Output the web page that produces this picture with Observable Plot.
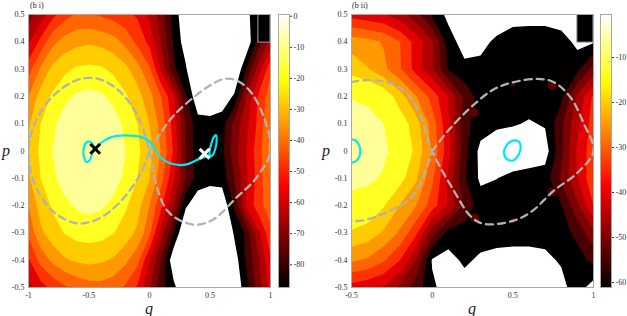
<!DOCTYPE html>
<html><head><meta charset="utf-8">
<script src="https://cdn.jsdelivr.net/npm/d3@7"></script>
<script src="https://cdn.jsdelivr.net/npm/@observablehq/plot@0.6"></script>
<style>
body{margin:0;background:#fff;}
#wrap{position:relative;width:627px;height:316px;font-family:"Liberation Serif","DejaVu Serif",serif;overflow:hidden;}
#wrap svg{position:absolute;top:0;}
.lab{position:absolute;font-style:italic;font-size:16px;color:#222;line-height:13px;}
.ttl{position:absolute;font-size:8px;color:#222;line-height:9px;}
</style></head><body><div id="wrap"></div>
<script>
// ---------- data: panel (b i) ----------
const q1 = [-1,-0.9,-0.8,-0.7,-0.6,-0.5,-0.4,-0.3,-0.2,-0.1,0,0.1,0.2,0.3,0.4,0.5,0.6,0.7,0.8,0.9,1];
const pRows = [0.5,0.4,0.3,0.2,0.1,0,-0.1,-0.2,-0.3,-0.4,-0.5];
const field1 = [
 [-66,-60,-51,-45,-41,-41.5,-43,-45,-47,-50,-58,-67,-80,-90,-97,-100,-100,-97,-86,-79,-72],
 [-57,-47,-37,-32,-30,-29,-30,-32,-37,-44,-51,-64,-78,-88,-97,-100,-100,-97,-90,-74,-60],
 [-45,-34,-26,-22.5,-20,-19.5,-20,-22.5,-26,-32,-41,-57.7,-75.5,-83,-97,-100,-100,-93,-77,-60,-44],
 [-35,-25,-20,-15.6,-13,-12,-13,-15.6,-20,-25,-32.5,-42.5,-55,-76,-90,-89,-89,-83,-63,-48,-38],
 [-29,-21,-15.4,-11,-8,-7,-8,-11,-15.4,-21,-28,-38,-52,-71,-81,-82,-80,-68,-58,-47,-35],
 [-26.5,-19.7,-13.8,-9,-6.8,-6,-6.8,-9,-13.8,-19.7,-25,-36,-50,-71,-81,-81.5,-79,-66,-56,-45,-33],
 [-29,-21,-15.4,-11,-8,-7,-8,-11,-15.4,-21,-28,-40,-55,-70,-80,-82,-81,-70,-57,-46,-35],
 [-35,-25,-20,-15.6,-13,-12,-13,-15.6,-20,-25,-35,-48,-63,-83,-89,-89,-90,-76,-55,-45,-38],
 [-40,-29.5,-24,-20.7,-18.4,-18,-18.4,-20.7,-24,-29.5,-40,-60,-77,-93,-100,-100,-97,-83,-75.5,-57.7,-44],
 [-50,-39.6,-33.3,-28.8,-27,-26,-27,-28.8,-33.3,-39.6,-56,-71,-90,-97,-100,-100,-97,-88,-76,-64,-50],
 [-58,-52,-47,-43,-40,-38,-37.5,-39,-43,-50,-62,-75,-82,-92,-100,-100,-97,-90,-80,-66,-54]
];
const levels1 = [-84,-77,-70,-63,-56,-49,-42,-35,-28,-21,-14];
const sep1 = [[0,0],[0.09,0.064],[0.2,0.13],[0.366,0.197],[0.5,0.24],[0.614,0.264],[0.72,0.258],[0.83,0.22],[0.945,0.124],[1,0],[0.88,-0.1],[0.72,-0.17],[0.53,-0.25],[0.39,-0.27],[0.256,-0.255],[0.15,-0.22],[0.08,-0.16],[0.03,-0.07],[0,0],[-0.1,0.13],[-0.25,0.22],[-0.43,0.265],[-0.6,0.26],[-0.8,0.2],[-0.95,0.1],[-1,0],[-0.95,-0.12],[-0.8,-0.22],[-0.6,-0.265],[-0.43,-0.25],[-0.25,-0.19],[-0.07,-0.08],[0,0]];
const cyanPath1 = [[-0.449,0.008],[-0.4,0.03],[-0.32,0.05],[-0.2,0.057],[-0.064,0.05],[0,0.035],[0.09,-0.023],[0.17,-0.045],[0.3,-0.05],[0.42,-0.027],[0.5,-0.015]];
const cyanLoop1a = [[-0.455,0.012],[-0.49,0.033],[-0.525,0.03],[-0.545,0.005],[-0.54,-0.025],[-0.52,-0.041],[-0.495,-0.035],[-0.475,-0.012]];
const cyanLoop1b = [[0.5,-0.02],[0.522,-0.015],[0.545,0.01],[0.555,0.04],[0.548,0.058],[0.53,0.05],[0.51,0.025],[0.497,0.0]];
const crossBlack1 = [[-0.449,0.008]];
const crossWhite1 = [[0.455,-0.01]];
const box1 = [{q1:0.9,q2:1,p1:0.397,p2:0.5}];
const qTicks1 = [-1,-0.5,0,0.5,1];
const cbTicks1 = [0,-10,-20,-30,-40,-50,-60,-70,-80];
const cbDomain1 = [-87.3,0.55];

// ---------- data: panel (b ii) ----------
const q2 = [-0.5,-0.4,-0.3,-0.2,-0.1,0,0.1,0.2,0.3,0.4,0.5,0.6,0.7,0.8,0.9,1];
const field2 = [
 [-36,-37.5,-38.5,-42,-47,-54.5,-60,-63,-63,-62,-61,-61,-61,-62,-63,-62],
 [-21.5,-22.5,-24.7,-29,-36,-43,-56,-61,-60,-57.5,-55.5,-55,-55,-56,-60,-59],
 [-16.5,-19,-23,-28.5,-36,-43,-54,-57,-57,-56,-56,-56,-56,-56,-55,-47],
 [-7.3,-8,-10.5,-17,-24,-31,-39,-50,-56,-56,-56,-56,-56,-55,-43,-33],
 [-4.7,-5.3,-7,-11.5,-17,-26.5,-38,-52,-56,-57.5,-58,-59,-58,-50,-40,-31.5],
 [-4,-4.5,-5.8,-10,-15.5,-25,-37,-52,-60,-62,-63,-62,-61,-50,-38,-31],
 [-5,-5.7,-7.8,-12.5,-18.5,-28,-40,-53,-59.5,-58.6,-57,-56.5,-56,-48,-39,-30],
 [-9.5,-10.5,-14,-19.5,-24,-31.5,-39.5,-50,-56,-56,-56,-56,-57,-54,-45,-34],
 [-15,-16.5,-20,-25,-33,-47,-55.5,-56,-56,-56,-56.5,-57,-57,-56,-52,-45],
 [-23.5,-25,-28.5,-34,-44,-59,-60.5,-57.5,-59.5,-60.5,-60.5,-60,-59.5,-58,-56,-52],
 [-36,-37.5,-39.5,-45,-51,-57.5,-61,-61,-62,-63,-63,-63,-62,-60,-56,-61]
];
const levels2 = [-58.5,-53.6,-48.7,-43.8,-38.9,-34,-29.1,-24.2,-19.3,-14.4,-7];
const sep2 = [[0,0],[0.1,0.075],[0.24,0.16],[0.38,0.225],[0.506,0.252],[0.65,0.264],[0.754,0.252],[0.857,0.197],[0.94,0.1],[1,0],[0.9,-0.08],[0.754,-0.145],[0.62,-0.22],[0.506,-0.255],[0.32,-0.267],[0.24,-0.24],[0.134,-0.145],[0,0],[-0.07,0.124],[-0.155,0.21],[-0.28,0.252],[-0.5,0.252],[-0.7,0.18],[-0.78,0],[-0.7,-0.18],[-0.5,-0.255],[-0.28,-0.224],[-0.11,-0.157],[0,0]];
const cyanLoop2a = [[-0.445,0.0],[-0.46,0.03],[-0.49,0.042],[-0.52,0.035],[-0.535,0.0],[-0.52,-0.035],[-0.49,-0.042],[-0.46,-0.03]];
const cyanLoop2b = [[0.548,0.02],[0.535,0.035],[0.5,0.038],[0.46,0.02],[0.445,-0.005],[0.46,-0.028],[0.5,-0.035],[0.535,-0.015]];
const islandsBig2 = [[0.26,0.14],[0.745,0.24],[0.745,-0.15],[0.265,-0.245]];
const islandsSmall2 = [[0.5,0.245],[0.5,-0.255]];
const box2 = [{q1:0.9,q2:1,p1:0.397,p2:0.5}];
const qTicks2 = [-0.5,0,0.5,1];
const cbTicks2 = [-10,-20,-30,-40,-50,-60];
const cbDomain2 = [-61.1,-0.44];

const pTicks = [0.5,0.4,0.3,0.2,0.1,0,-0.1,-0.2,-0.3,-0.4,-0.5];

// ---------- styles ----------
const bandColors = ["#000000","#4a0000","#7e0000","#b00000","#e20000","#ff3300","#ff6600","#ff9900","#ffcc00","#ffff22","#ffff99"];
const fontFam = "Liberation Serif, DejaVu Serif, serif";
const fmt = d => String(Math.round(d * 10) / 10);
const pairs = a => a.map(([q, p]) => ({q, p}));

function panel(o) {
  const nx = o.qs.length, ny = pRows.length;
  const dq = (o.qs[nx - 1] - o.qs[0]) / (nx - 1);
  const dp = (pRows[0] - pRows[ny - 1]) / (ny - 1);
  const marks = [
    Plot.contour(o.field.flat(), {
      width: nx, height: ny,
      x1: o.qs[0] - dq / 2, x2: o.qs[nx - 1] + dq / 2,
      y1: pRows[0] + dp / 2, y2: pRows[ny - 1] - dp / 2,
      fill: Plot.identity, stroke: "none", thresholds: o.levels
    })
  ];
  if (o.islandsBig) marks.push(Plot.dot(pairs(o.islandsBig), {x: "q", y: "p", r: 4.5, fill: "#5a0000"}));
  if (o.islandsSmall) marks.push(Plot.dot(pairs(o.islandsSmall), {x: "q", y: "p", r: 2.5, fill: "#5a0000"}));
  marks.push(Plot.line(pairs(o.sep), {x: "q", y: "p", curve: "catmull-rom", stroke: "#b2b2b2", strokeWidth: 2.3, strokeDasharray: "7,5"}));
  for (const path of o.cyanPaths) marks.push(Plot.line(pairs(path), {x: "q", y: "p", curve: "catmull-rom", stroke: "#00e8f0", strokeWidth: 2.2}));
  for (const loop of o.cyanLoops) marks.push(Plot.line(pairs(loop), {x: "q", y: "p", curve: "catmull-rom-closed", stroke: "#00e8f0", strokeWidth: 2.2}));
  if (o.crossBlack) marks.push(Plot.dot(pairs(o.crossBlack), {x: "q", y: "p", symbol: "times", r: 4.5, stroke: "black", strokeWidth: 3}));
  if (o.crossWhite) marks.push(Plot.dot(pairs(o.crossWhite), {x: "q", y: "p", symbol: "times", r: 4.5, stroke: "white", strokeWidth: 3}));
  marks.push(Plot.rect(o.box, {x1: "q1", x2: "q2", y1: "p1", y2: "p2", fill: "black", stroke: "#a0a0a0"}));
  marks.push(Plot.frame({stroke: "#a8a8a8"}));
  return Plot.plot({
    width: o.width, height: 316,
    marginLeft: o.ml, marginRight: 5, marginTop: 14, marginBottom: 29,
    clip: true,
    x: {domain: [o.qs[0], o.qs[nx - 1]], ticks: o.qTicks, tickFormat: fmt, tickSize: 0, tickPadding: 5, label: null},
    y: {domain: [-0.5, 0.5], ticks: pTicks, tickFormat: fmt, tickSize: 0, tickPadding: 4, label: null},
    color: {type: "ordinal", domain: o.levels, range: bandColors},
    style: {fontFamily: fontFam, fontSize: "8px", color: "#333", background: "white"},
    marks
  });
}

function colorbar(o) {
  const [lo, hi] = o.domain;
  return Plot.plot({
    width: o.width, height: 316,
    marginLeft: o.ml, marginRight: o.width - o.ml - 11, marginTop: 14, marginBottom: 29,
    x: {domain: [0, 1], axis: null},
    y: {domain: [lo, hi], ticks: o.ticks, tickFormat: d => String(d), tickSize: 2, tickPadding: 2, label: null, axis: "right"},
    color: {type: "linear", domain: [lo, lo + 0.375 * (hi - lo), lo + 0.75 * (hi - lo), hi], range: ["#000000", "#ff0000", "#ffff00", "#ffffff"]},
    style: {fontFamily: fontFam, fontSize: "8px", color: "#333", background: "white"},
    marks: [
      Plot.raster({x1: 0, x2: 1, y1: lo, y2: hi, width: 1, height: 400, fill: (x, y) => y}),
      Plot.frame({stroke: "#a8a8a8"})
    ]
  });
}

const wrap = document.getElementById("wrap");
function place(el, left) { el.style.left = left + "px"; wrap.appendChild(el); }

place(panel({qs: q1, field: field1, levels: levels1, sep: sep1, cyanPaths: [cyanPath1], cyanLoops: [cyanLoop1a, cyanLoop1b],
  crossBlack: crossBlack1, crossWhite: crossWhite1, box: box1, qTicks: qTicks1, width: 275, ml: 28}), 0);
place(colorbar({domain: cbDomain1, ticks: cbTicks1, width: 45, ml: 3}), 275);
place(panel({qs: q2, field: field2, levels: levels2, sep: sep2, cyanPaths: [], cyanLoops: [cyanLoop2a, cyanLoop2b],
  islandsBig: islandsBig2, islandsSmall: islandsSmall2, box: box2, qTicks: qTicks2, width: 278, ml: 31}), 320);
place(colorbar({domain: cbDomain2, ticks: cbTicks2, width: 29, ml: 2}), 598);

function label(text, cls, left, top) {
  const d = document.createElement("div"); d.className = cls; d.textContent = text;
  d.style.left = left + "px"; d.style.top = top + "px"; wrap.appendChild(d);
}
label("(b i)", "ttl", 30, 1);
label("(b ii)", "ttl", 352, 1);
label("p", "lab", 2, 144);
label("q", "lab", 145, 302);
label("p", "lab", 322, 144);
label("q", "lab", 468, 302);
</script></body></html>
